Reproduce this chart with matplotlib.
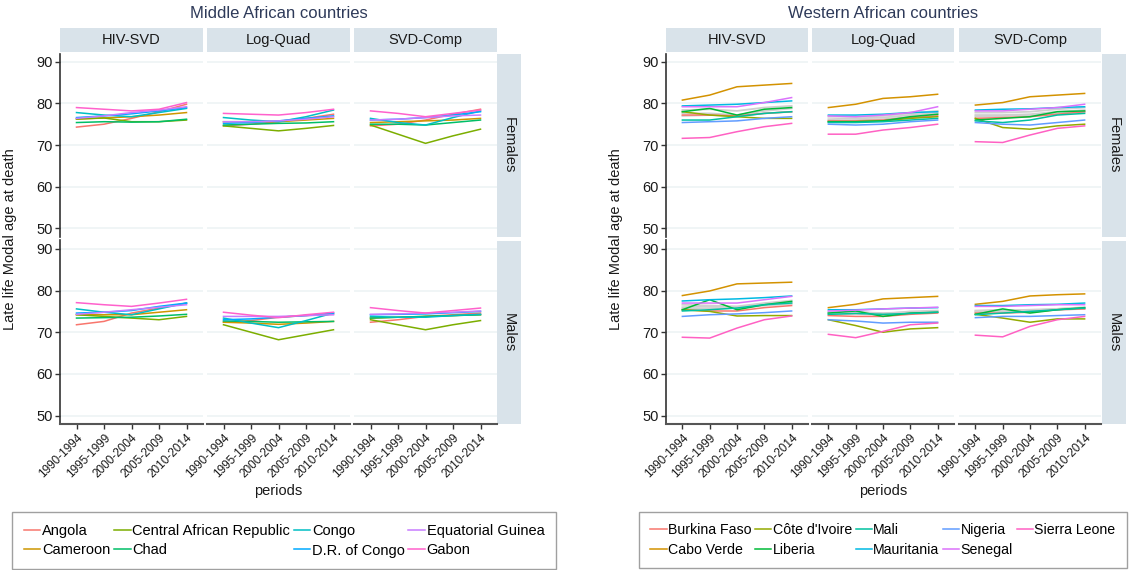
import matplotlib.pyplot as plt
from matplotlib.lines import Line2D

plt.rcParams['font.family'] = ['Liberation Sans', 'DejaVu Sans']

periods = ["1990-1994", "1995-1999", "2000-2004", "2005-2009", "2010-2014"]
methods = ["HIV-SVD", "Log-Quad", "SVD-Comp"]
sexes = ["Females", "Males"]

# Middle Africa: each country -> [HIV-SVD, Log-Quad, SVD-Comp] over the 5 periods
mid_countries = ["Angola", "Cameroon", "Central African Republic", "Chad",
                 "Congo", "D.R. of Congo", "Equatorial Guinea", "Gabon"]
mid_colors = ["#F8766D", "#CD9600", "#7CAE00", "#00BE67",
              "#00BFC4", "#00A9FF", "#C77CFF", "#FF61CC"]

mid_females = {
    "Angola": [[74.3, 75.0, 76.4, 78.0, 79.8], [74.6, 75.0, 75.6, 76.4, 77.4], [74.6, 75.0, 76.0, 77.4, 78.6]],
    "Cameroon": [[76.2, 76.5, 76.8, 77.2, 77.8], [75.6, 75.6, 75.6, 76.0, 76.4], [75.4, 75.6, 75.8, 76.0, 76.4]],
    "Central African Republic": [[76.3, 76.5, 75.6, 75.6, 76.0], [74.6, 74.0, 73.4, 74.0, 74.7], [74.8, 72.6, 70.4, 72.2, 73.8]],
    "Chad": [[75.4, 75.6, 75.5, 75.6, 76.2], [74.8, 75.0, 75.2, 75.3, 75.6], [75.0, 75.0, 74.8, 75.4, 76.0]],
    "Congo": [[77.8, 77.2, 76.8, 77.8, 78.8], [76.6, 76.0, 75.6, 76.8, 78.4], [76.4, 75.4, 74.8, 76.6, 78.2]],
    "D.R. of Congo": [[76.6, 77.0, 77.5, 78.2, 79.0], [75.2, 75.4, 75.8, 76.4, 77.0], [76.0, 76.2, 76.6, 77.2, 78.0]],
    "Equatorial Guinea": [[76.4, 77.0, 77.8, 78.4, 79.2], [75.6, 75.6, 75.8, 76.2, 76.8], [76.0, 76.2, 76.6, 77.0, 77.2]],
    "Gabon": [[79.0, 78.6, 78.2, 78.6, 80.2], [77.6, 77.4, 77.2, 77.8, 78.6], [78.2, 77.6, 76.8, 77.6, 78.4]],
}
mid_males = {
    "Angola": [[71.8, 72.6, 74.6, 75.8, 77.0], [72.4, 72.8, 73.6, 74.0, 74.3], [72.4, 73.0, 73.8, 74.2, 74.6]],
    "Cameroon": [[74.2, 74.2, 74.2, 74.8, 75.4], [72.4, 72.2, 71.9, 72.2, 72.6], [73.4, 73.6, 73.8, 74.0, 74.2]],
    "Central African Republic": [[74.2, 73.8, 73.4, 73.0, 73.8], [71.8, 70.0, 68.2, 69.4, 70.6], [73.0, 71.8, 70.6, 71.8, 72.8]],
    "Chad": [[73.4, 73.5, 73.6, 73.9, 74.3], [72.7, 72.6, 72.4, 72.5, 72.6], [73.4, 73.6, 73.8, 74.0, 74.2]],
    "Congo": [[75.6, 74.8, 74.2, 75.6, 77.0], [73.4, 72.2, 71.1, 72.8, 74.6], [73.8, 73.6, 73.6, 74.0, 74.3]],
    "D.R. of Congo": [[74.6, 74.8, 75.2, 76.2, 77.0], [73.0, 73.2, 73.6, 74.0, 74.6], [74.2, 74.3, 74.4, 74.7, 75.0]],
    "Equatorial Guinea": [[74.3, 74.8, 75.4, 76.0, 76.6], [73.8, 73.8, 73.8, 74.0, 74.2], [74.3, 74.4, 74.6, 74.8, 75.1]],
    "Gabon": [[77.1, 76.6, 76.2, 77.0, 77.9], [74.8, 74.1, 73.5, 74.2, 74.8], [75.9, 75.2, 74.6, 75.2, 75.8]],
}

# Western Africa
west_countries = ["Burkina Faso", "Cabo Verde", "Côte d'Ivoire", "Liberia", "Mali",
                  "Mauritania", "Nigeria", "Senegal", "Sierra Leone"]
west_colors = ["#F8766D", "#D39200", "#93AA00", "#00BA38", "#00C19F",
               "#00B9E3", "#619CFF", "#DB72FB", "#FF61C3"]

west_females = {
    "Burkina Faso": [[77.2, 77.2, 77.0, 77.6, 78.0], [75.8, 75.8, 76.0, 76.6, 77.0], [76.4, 76.6, 76.8, 77.4, 78.0]],
    "Cabo Verde": [[80.8, 82.0, 84.0, 84.4, 84.8], [79.0, 79.8, 81.2, 81.6, 82.2], [79.6, 80.2, 81.6, 82.0, 82.4]],
    "Côte d'Ivoire": [[78.0, 77.2, 76.8, 76.4, 76.4], [75.6, 75.6, 75.8, 76.4, 76.8], [76.4, 74.2, 73.8, 74.6, 75.0]],
    "Liberia": [[78.0, 78.8, 77.2, 78.6, 79.0], [75.6, 75.6, 75.8, 76.8, 77.4], [76.0, 76.4, 76.8, 78.0, 78.2]],
    "Mali": [[76.0, 76.0, 76.8, 77.6, 78.0], [75.4, 75.4, 75.6, 76.0, 76.4], [75.8, 75.4, 76.0, 77.2, 77.6]],
    "Mauritania": [[79.4, 79.6, 79.8, 80.2, 80.6], [77.2, 77.2, 77.4, 77.8, 78.0], [78.4, 78.6, 78.7, 79.0, 79.2]],
    "Nigeria": [[75.4, 75.6, 75.8, 76.4, 76.8], [75.0, 74.8, 75.0, 75.6, 76.0], [75.4, 75.0, 74.8, 75.4, 76.0]],
    "Senegal": [[79.2, 79.2, 79.2, 80.2, 81.4], [77.0, 76.8, 77.2, 77.8, 79.2], [78.2, 78.2, 78.6, 79.0, 79.8]],
    "Sierra Leone": [[71.6, 71.8, 73.2, 74.4, 75.2], [72.6, 72.6, 73.6, 74.2, 75.0], [70.8, 70.6, 72.4, 74.0, 74.6]],
}
west_males = {
    "Burkina Faso": [[75.4, 75.1, 75.1, 75.9, 76.4], [74.0, 73.8, 73.8, 74.3, 74.6], [74.6, 74.6, 74.8, 75.4, 75.6]],
    "Cabo Verde": [[78.8, 79.9, 81.6, 81.8, 82.0], [75.9, 76.7, 78.0, 78.3, 78.6], [76.7, 77.4, 78.7, 79.0, 79.2]],
    "Côte d'Ivoire": [[75.4, 75.0, 73.9, 74.0, 74.0], [73.0, 71.6, 70.0, 70.8, 71.1], [74.3, 73.4, 72.4, 73.2, 73.2]],
    "Liberia": [[75.4, 77.8, 75.4, 76.6, 77.4], [74.6, 75.1, 73.8, 74.6, 74.8], [74.3, 75.6, 74.6, 75.4, 75.9]],
    "Mali": [[75.1, 75.4, 75.8, 76.6, 77.0], [74.3, 74.5, 74.3, 74.5, 74.8], [74.2, 74.6, 75.0, 75.4, 75.8]],
    "Mauritania": [[77.5, 77.8, 78.0, 78.3, 78.7], [75.4, 75.4, 75.6, 75.8, 75.9], [76.4, 76.4, 76.6, 76.7, 77.0]],
    "Nigeria": [[73.8, 74.2, 74.4, 74.7, 75.1], [73.0, 72.7, 72.2, 72.4, 72.4], [73.5, 73.8, 73.8, 74.0, 74.2]],
    "Senegal": [[77.0, 77.0, 77.0, 77.8, 78.6], [75.1, 75.3, 75.6, 75.8, 76.0], [76.2, 76.2, 76.4, 76.6, 76.6]],
    "Sierra Leone": [[68.8, 68.6, 71.0, 73.0, 73.9], [69.5, 68.7, 70.2, 71.8, 72.2], [69.3, 68.9, 71.4, 73.0, 73.8]],
}

# other western countries, drawn in grey (not in legend)
west_other_females = [
    [[77.6, 77.6, 77.2, 78.2, 78.8], [76.2, 76.4, 76.6, 77.2, 77.8], [77.2, 77.2, 77.4, 78.0, 78.4]],
    [[78.4, 78.6, 78.2, 79.0, 79.4], [76.8, 76.8, 77.0, 77.6, 78.2], [77.8, 77.8, 78.0, 78.6, 79.0]],
    [[77.0, 77.2, 77.0, 77.6, 78.0], [75.8, 76.0, 76.2, 76.8, 77.4], [76.8, 77.0, 77.2, 77.6, 78.0]],
]
west_other_males = [
    [[76.0, 76.2, 76.0, 76.8, 77.2], [74.6, 74.8, 74.6, 74.8, 75.0], [75.2, 75.4, 75.2, 75.6, 76.0]],
    [[76.6, 76.4, 76.2, 77.0, 77.6], [74.8, 75.0, 74.4, 75.0, 75.2], [75.0, 75.2, 75.4, 75.6, 75.8]],
    [[75.6, 75.8, 75.8, 76.4, 76.8], [74.2, 74.4, 74.2, 74.6, 74.8], [74.8, 75.0, 75.0, 75.4, 75.6]],
]

W, H = 1129, 570
fig = plt.figure(figsize=(W / 100, H / 100), dpi=100)

strip_col = "#D9E3EA"
grid_col = "#EEF3F5"
axis_col = "#333333"


def px_axes(x0, y0, x1, y1, **kw):
    return fig.add_axes([x0 / W, 1 - y1 / H, (x1 - x0) / W, (y1 - y0) / H], **kw)


def strip(x0, y0, x1, y1, text, rot=0):
    sa = px_axes(x0, y0, x1, y1)
    sa.set_facecolor(strip_col)
    sa.set_xticks([])
    sa.set_yticks([])
    for s in sa.spines.values():
        s.set_visible(False)
    sa.text(0.5, 0.5, text, ha="center", va="center", rotation=rot,
            fontsize=10.5, color="#1a1a1a", transform=sa.transAxes)


def draw_block(cols, strip_x, rows, title, countries, colors, fem, mal,
               other_f=None, other_m=None):
    # title
    cx = (cols[0][0] + cols[-1][1]) / 2
    fig.text(cx / W, 1 - 13 / H, title, ha="center", va="center",
             fontsize=12, color="#2E3A59")
    for j, m in enumerate(methods):
        strip(cols[j][0], 28, cols[j][1], 52, m)
    for i, sex in enumerate(sexes):
        strip(strip_x[0], rows[i][0], strip_x[1], rows[i][1], sex, rot=-90)
        data = fem if i == 0 else mal
        others = other_f if i == 0 else other_m
        for j, m in enumerate(methods):
            ax = px_axes(cols[j][0], rows[i][0], cols[j][1], rows[i][1])
            ax.set_xlim(-0.6, 4.6)
            ax.set_ylim(48, 92)
            ax.set_yticks([50, 60, 70, 80, 90])
            ax.set_xticks(range(len(periods)))
            ax.grid(axis="y", color=grid_col, lw=1.2)
            ax.set_axisbelow(True)
            for s in ax.spines.values():
                s.set_visible(False)
            if others:
                for o in others:
                    ax.plot(range(len(periods)), o[j], color="#CFCFCF", lw=1.3)
            for c, col in zip(countries, colors):
                ax.plot(range(len(periods)), data[c][j], color=col, lw=1.1)
            ax.tick_params(length=3.5, color=axis_col, width=1)
            if j == 0:
                ax.spines["left"].set_visible(True)
                ax.spines["left"].set_color(axis_col)
                ax.spines["left"].set_linewidth(1.2)
                ax.tick_params(axis="y", labelsize=10.5, labelcolor="#1a1a1a", pad=1.5)
            else:
                ax.tick_params(axis="y", left=False, labelleft=False)
            if i == 1:
                ax.spines["bottom"].set_visible(True)
                ax.spines["bottom"].set_color("#555555")
                ax.spines["bottom"].set_linewidth(1.5)
                ax.set_xticklabels(periods, rotation=45, ha="right",
                                   rotation_mode="anchor", fontsize=8.5, color="#1a1a1a")
                ax.tick_params(axis="x", pad=2)
            else:
                ax.tick_params(axis="x", bottom=False, labelbottom=False)
    # axis labels
    fig.text(cx / W, 1 - 491 / H, "periods", ha="center", va="center",
             fontsize=10.5, color="#1a1a1a")
    ly = (rows[0][0] + rows[1][1]) / 2
    fig.text((cols[0][0] - 50) / W, 1 - ly / H, "Late life Modal age at death",
             ha="center", va="center", rotation=90, fontsize=10.5, color="#1a1a1a")


mid_cols = [(60, 203), (207, 350), (354, 497)]
west_cols = [(666, 808), (812, 954), (959, 1101)]
rows = [(53.5, 236.5), (240.5, 424)]

draw_block(mid_cols, (497, 521), rows, "Middle African countries",
           mid_countries, mid_colors, mid_females, mid_males)
draw_block(west_cols, (1102, 1126), rows, "Western African countries",
           west_countries, west_colors, west_females, west_males,
           west_other_females, west_other_males)


def legend(countries, colors, x0, ncol, fs):
    handles = [Line2D([], [], color=c, lw=1.1) for c in colors]
    leg = fig.legend(handles, countries, loc="upper left",
                     bbox_to_anchor=(x0 / W, 1 - 512 / H), ncol=ncol,
                     fontsize=fs, frameon=True, fancybox=False,
                     handlelength=1.15, handletextpad=0.1, columnspacing=0.25,
                     labelspacing=0.4, borderpad=0.8, borderaxespad=0)
    leg.get_frame().set_edgecolor("#888888")
    leg.get_frame().set_linewidth(1)


legend(mid_countries, mid_colors, 12, 4, 10.5)
legend(west_countries, west_colors, 639, 5, 10.2)

fig.savefig("out.png", dpi=100)
